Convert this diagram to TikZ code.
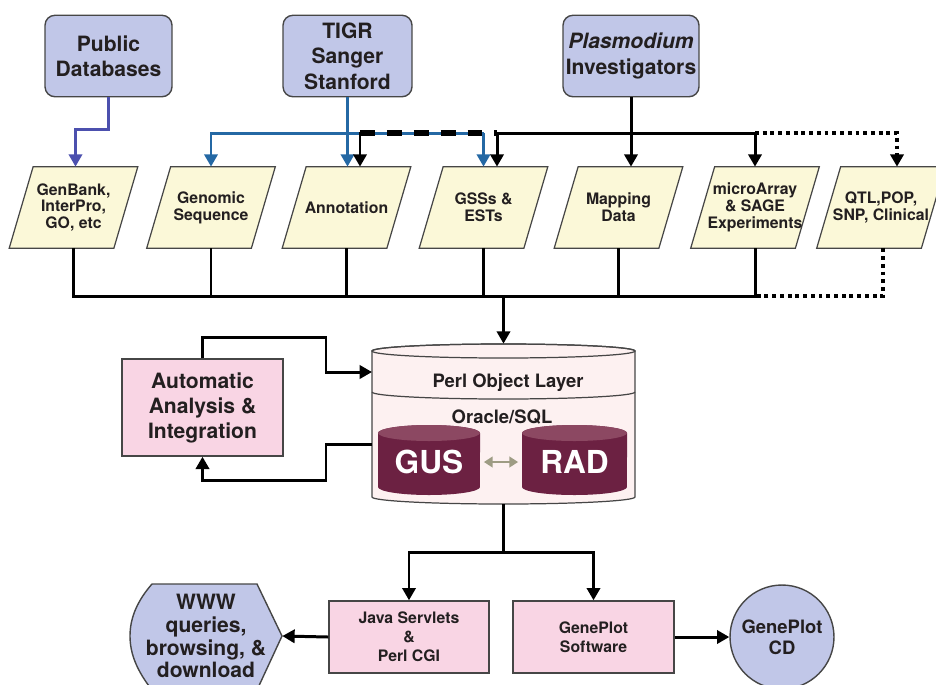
\documentclass[tikz,border=0pt]{standalone}
\usepackage{fontspec}
\setmainfont{TeX Gyre Heros}
\usetikzlibrary{arrows.meta,calc,backgrounds,shapes.geometric}
\definecolor{boxblue}{RGB}{193,199,232}
\definecolor{paray}{RGB}{251,248,216}
\definecolor{pinkc}{RGB}{249,213,228}
\definecolor{cylc}{RGB}{253,241,241}
\definecolor{maroonc}{RGB}{108,33,66}
\definecolor{maroontop}{RGB}{140,72,98}
\definecolor{blueln}{RGB}{36,104,164}
\definecolor{purpln}{RGB}{76,80,174}
\definecolor{olivec}{RGB}{158,156,132}
\definecolor{bordc}{RGB}{70,70,70}
\definecolor{txtc}{RGB}{35,31,32}
\begin{document}
\begin{tikzpicture}[x=0.02cm,y=-0.02cm,
  every node/.style={text=txtc},
  topbox/.style={draw=bordc, line width=0.8pt, fill=boxblue, rounded corners=0.2cm,
    minimum height=1.63cm, align=center, inner sep=0pt,
    font=\fontsize{12}{14.5}\selectfont\bfseries},
  paratext/.style={minimum width=2.08cm, minimum height=1.62cm, align=center, inner sep=0pt,
    font=\fontsize{9}{9.6}\selectfont\bfseries},
  parashape/.style={draw=bordc, line width=0.7pt, fill=paray},
  pinkbox/.style={draw=bordc, line width=0.8pt, fill=pinkc, align=center, inner sep=0pt},
  arr/.style={-{Triangle[width=7.5pt,length=7pt]}},
  darr/.style={{Triangle[width=6pt,length=5pt]}-{Triangle[width=6pt,length=5pt]}},
  blk/.style={draw=black, line width=1.7pt},
  bluelin/.style={draw=blueln, line width=1.7pt},
  purplin/.style={draw=purpln, line width=1.7pt},
  dashline/.style={draw=black, line width=3.8pt, dash pattern=on 8.5pt off 6.8pt},
  dotline/.style={draw=black, line width=1.8pt, dash pattern=on 2.2pt off 2.2pt},
  cylline/.style={draw=bordc, line width=0.7pt}
]
\useasboundingbox (0,0) rectangle (936,684);
\clip (0,0) rectangle (936,684);

% ---------- top source boxes ----------
\node[topbox, minimum width=2.54cm] (pub) at (108.5,56) {Public\\Databases};
\node[topbox, minimum width=2.58cm] (tigr) at (347.5,56) {TIGR\\Sanger\\Stanford};
\node[topbox, minimum width=2.72cm] (plas) at (631,56) {\itshape Plasmodium\\Investigators};

% ---------- data parallelograms ----------
\node[paratext] (gen) at (73.5,207.5) {GenBank,\\InterPro,\\GO, etc};
\node[paratext] (gs)  at (211,207.5) {Genomic\\Sequence};
\node[paratext] (ann) at (346.5,207.5) {Annotation};
\node[paratext] (gss) at (483.5,207.5) {GSSs \&\\ESTs};
\node[paratext] (map) at (618.5,207.5) {Mapping\\Data};
\node[paratext] (ma)  at (755,207.5) {microArray\\\& SAGE\\Experiments};
\node[paratext] (qtl) at (881,207.5) {QTL,POP,\\SNP, Clinical};
\begin{scope}[on background layer]
\foreach \nm in {gen,gs,ann,gss,map,ma,qtl} {
  \draw[parashape] ($(\nm.north west)+(12,0)$) -- ($(\nm.north east)+(12,0)$)
     -- ($(\nm.south east)+(-12,0)$) -- ($(\nm.south west)+(-12,0)$) -- cycle;
}
\end{scope}

% ---------- top connectors ----------
\coordinate (yb) at (0,133);
\draw[purplin,arr] (pub.south) -- ++(0,32) -| ($(gen.north)+(2,0)$);
\draw[bluelin,arr] (tigr.south |- yb) -| (gs.north);
\draw[bluelin] (tigr.south |- yb) -- (gss.north |- yb);
\draw[bluelin,arr] (gss.north |- yb) -- (gss.north);
\draw[bluelin,arr] (tigr.south) -- (tigr.south |- ann.north);

\coordinate (annk) at ($(ann.north)+(13.5,0)$);
\coordinate (gssk) at ($(gss.north)+(13.5,0)$);
\coordinate (qtlk) at ($(qtl.north)+(16,0)$);
\draw[dashline] (annk |- yb) -- (gssk |- yb);
\draw[blk] (gssk |- yb) -- (ma.north |- yb);
\draw[blk,arr] ([yshift=0.85pt]annk |- yb) -- (annk);
\draw[blk,arr] (gssk |- yb) -- (gssk);
\draw[blk,arr] (plas.south) -- (plas.south |- map.north);
\draw[blk,arr] (ma.north |- yb) -- (ma.north);
\draw[dotline,arr] (ma.north |- yb) -| (qtlk);

% ---------- lower bus ----------
\coordinate (yc) at (0,296);
\foreach \nm in {gen,gs,ann,gss,map,ma} {
  \draw[blk] (\nm.south) -- (\nm.south |- yc);
}
\draw[blk] ([xshift=-0.85pt]gen.south |- yc) -- ([xshift=0.85pt]ma.south |- yc);
\draw[dotline] ($(qtl.south)+(2,0)$) |- (ma.south |- yc);

% ---------- database cylinder ----------
\node[minimum width=5.26cm, minimum height=3.2cm, inner sep=0pt] (db) at (503.5,424) {};
\draw[cylline, fill=cylc] (372,351) -- (372,497) arc(180:360:2.63cm and 0.14cm)
   -- (635,351) arc(0:180:2.63cm and 0.14cm) -- cycle;
\draw[cylline] (503.5,351) ellipse [x radius=2.63cm, y radius=0.14cm];
\draw[cylline] (372,392) arc(180:360:2.63cm and 0.14cm);
\node[font=\fontsize{10.5}{12}\selectfont\bfseries] (pol) at (508,383) {Perl Object Layer};
\node[font=\fontsize{10.5}{12}\selectfont\bfseries] (ora) at (502,417) {Oracle/SQL};

\fill[maroonc] (378,433) -- (378,487) arc(180:360:1.02cm and 0.16cm)
   -- (480,433) arc(0:180:1.02cm and 0.16cm) -- cycle;
\fill[maroontop] (429,433) ellipse [x radius=1.02cm, y radius=0.16cm];
\fill[maroonc] (522,433) -- (522,487) arc(180:360:1.05cm and 0.16cm)
   -- (627,433) arc(0:180:1.05cm and 0.16cm) -- cycle;
\fill[maroontop] (574.5,433) ellipse [x radius=1.05cm, y radius=0.16cm];
\node[minimum width=2.04cm, minimum height=1.0cm, inner sep=0pt, text=white,
      font=\fontsize{18}{20}\selectfont\bfseries] (gus) at (429,462) {GUS};
\node[minimum width=2.1cm, minimum height=1.0cm, inner sep=0pt, text=white,
      font=\fontsize{18}{20}\selectfont\bfseries] (rad) at (574.5,462) {RAD};
\draw[draw=olivec, line width=1.6pt, darr] ([xshift=2pt]gus.east) -- ([xshift=-2pt]rad.west);

\draw[blk,arr] (db.north |- yc) -- (db.north);

% ---------- automatic analysis loop ----------
\node[pinkbox, minimum width=3.22cm, minimum height=1.94cm,
      font=\fontsize{12}{14.2}\selectfont\bfseries] (auto) at (202.5,407.5)
      {Automatic\\Analysis \&\\Integration};
\coordinate (dbin) at (372,372);
\coordinate (dbout) at (372,444);
\coordinate (fa) at (326,337);
\coordinate (fb) at (326,480);
\draw[blk,arr] (auto.north) |- (fa) |- (dbin);
\draw[blk,arr] (dbout) -| (fb) -| (auto.south);

% ---------- outputs ----------
\node[pinkbox, minimum width=3.2cm, minimum height=1.44cm,
      font=\fontsize{9}{10.8}\selectfont\bfseries] (java) at (409,637)
      {Java Servlets\\\&\\Perl CGI};
\node[pinkbox, minimum width=3.22cm, minimum height=1.44cm,
      font=\fontsize{9}{10.8}\selectfont\bfseries] (gp) at (593.5,637)
      {GenePlot\\Software};
\coordinate (sp) at (503.5,552);
\draw[blk] (db.south) -- (sp);
\draw[blk,arr] ([xshift=0.85pt]sp) -| (java.north);
\draw[blk,arr] ([xshift=-0.85pt]sp) -| (gp.north);

\draw[draw=bordc, line width=0.8pt, fill=boxblue] (152,584) -- (257,584) -- (282,636)
   -- (257,690) -- (152,690) .. controls (138,672) and (130,655) .. (130,636)
   .. controls (130,617) and (138,600) .. (152,584) -- cycle;
\node[minimum width=3.04cm, minimum height=2cm, inner sep=0pt, align=center,
      font=\fontsize{12}{13}\selectfont\bfseries] (www) at (206,636)
      {WWW\\queries,\\browsing, \&\\download};
\draw[blk,arr] (java.west) -- (www.east);

\node[circle, draw=bordc, line width=0.8pt, fill=boxblue, minimum size=2.08cm,
      inner sep=0pt, align=center, font=\fontsize{10.5}{12}\selectfont\bfseries]
      (cd) at (782,637) {GenePlot\\CD};
\draw[blk,arr] (gp.east) -- (cd.west);
\end{tikzpicture}
\end{document}
